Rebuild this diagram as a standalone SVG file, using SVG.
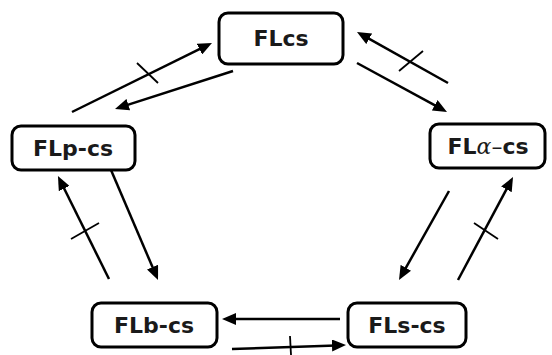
<svg xmlns="http://www.w3.org/2000/svg" width="552" height="355" viewBox="0 0 552 355">
<defs>
<style>
.box{fill:#fff;stroke:#000;stroke-width:3}
.lbl{font-family:"DejaVu Sans","Liberation Sans",sans-serif;font-weight:bold;font-size:22px;text-anchor:middle;fill:#1a1a1a}
.ar{stroke:#000;stroke-width:2.5;fill:none;marker-end:url(#ah)}
.tk{stroke:#000;stroke-width:1.8;fill:none}
</style>
<marker id="ah" markerUnits="userSpaceOnUse" markerWidth="14" markerHeight="12" refX="4" refY="6" orient="auto">
<path d="M0,0 L14,6 L0,12 z" fill="#000"/>
</marker>
</defs>
<rect width="552" height="355" fill="#fff"/>
<g id="FLcs"><rect class="box" x="219" y="13" width="124" height="51" rx="9"/><text class="lbl" x="281" y="46">FLcs</text></g>
<g id="FLp-cs"><rect class="box" x="12" y="126" width="123" height="44" rx="9"/><text class="lbl" x="73" y="156">FLp-cs</text></g>
<g id="FLa-cs"><rect class="box" x="430" y="124" width="115" height="44" rx="9"/><text class="lbl" x="488" y="154">FL<tspan font-family="DejaVu Serif" font-style="italic" font-weight="normal">α</tspan><tspan font-weight="normal">–</tspan>cs</text></g>
<g id="FLb-cs"><rect class="box" x="92" y="303" width="125" height="44" rx="9"/><text class="lbl" x="154" y="333">FLb-cs</text></g>
<g id="FLs-cs"><rect class="box" x="348" y="303" width="118" height="44" rx="9"/><text class="lbl" x="407" y="333">FLs-cs</text></g>
<g id="connectors">
<line class="ar" x1="72" y1="112" x2="203" y2="47.4"/>
<line class="tk" x1="137" y1="63" x2="158" y2="83"/>
<line class="ar" x1="233" y1="71" x2="124.5" y2="105.9"/>
<line class="ar" x1="448" y1="83" x2="365.7" y2="36.9"/>
<line class="tk" x1="399" y1="71" x2="423" y2="51"/>
<line class="ar" x1="357" y1="63" x2="438.2" y2="107.2"/>
<line class="ar" x1="109" y1="279" x2="62.4" y2="185"/>
<line class="tk" x1="71" y1="239" x2="99" y2="223"/>
<line class="ar" x1="111" y1="170" x2="154.1" y2="270.8"/>
<line class="ar" x1="449" y1="191" x2="403.9" y2="271.3"/>
<line class="ar" x1="458" y1="280" x2="508.3" y2="185.8"/>
<line class="tk" x1="474" y1="223" x2="498" y2="239"/>
<line class="ar" x1="340" y1="319" x2="232" y2="319"/>
<line class="ar" x1="232" y1="349" x2="336" y2="345.4"/>
<line class="tk" x1="290" y1="336" x2="291" y2="355"/>
</g>
</svg>
